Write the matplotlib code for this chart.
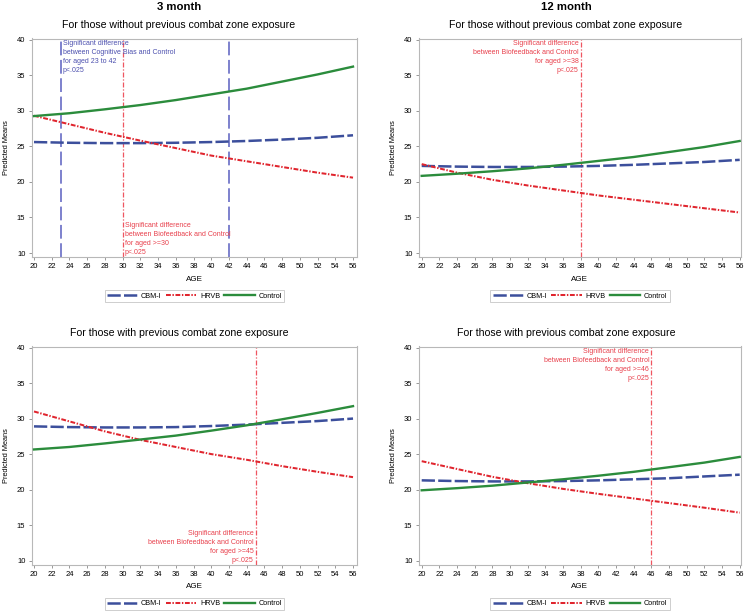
import matplotlib
matplotlib.use("Agg")
import matplotlib.pyplot as plt

plt.rcParams['font.family'] = ['Liberation Sans', 'DejaVu Sans']

# ---------------- data ----------------
ages = [20, 24, 28, 32, 36, 40, 44, 48, 52, 56]

# 3 month, without previous combat zone exposure
m3_wo_cbmi    = [25.6, 25.5, 25.45, 25.45, 25.5, 25.6, 25.75, 25.95, 26.2, 26.55]
m3_wo_hrvb    = [29.3, 28.1, 26.9, 25.8, 24.75, 23.7, 22.9, 22.1, 21.3, 20.6]
m3_wo_control = [29.25, 29.65, 30.2, 30.8, 31.5, 32.3, 33.1, 34.1, 35.1, 36.2]

# 12 month, without previous combat zone exposure
m12_wo_cbmi    = [22.25, 22.15, 22.1, 22.1, 22.15, 22.25, 22.4, 22.6, 22.8, 23.1]
m12_wo_hrvb    = [22.5, 21.3, 20.3, 19.5, 18.8, 18.1, 17.5, 16.9, 16.3, 15.7]
m12_wo_control = [20.85, 21.15, 21.5, 21.9, 22.4, 22.95, 23.5, 24.2, 24.9, 25.75]

# 3 month, with previous combat zone exposure
m3_w_cbmi    = [28.9, 28.8, 28.75, 28.75, 28.8, 28.95, 29.15, 29.4, 29.65, 30.0]
m3_w_hrvb    = [31.0, 29.6, 28.2, 27.0, 26.0, 25.0, 24.2, 23.3, 22.5, 21.75]
m3_w_control = [25.65, 26.0, 26.5, 27.05, 27.6, 28.3, 29.05, 29.9, 30.8, 31.75]

# 12 month, with previous combat zone exposure
m12_w_cbmi    = [21.3, 21.2, 21.15, 21.15, 21.2, 21.3, 21.45, 21.6, 21.85, 22.1]
m12_w_hrvb    = [24.0, 22.9, 21.8, 20.9, 20.1, 19.4, 18.75, 18.1, 17.45, 16.75]
m12_w_control = [19.9, 20.2, 20.55, 21.0, 21.45, 21.95, 22.5, 23.15, 23.8, 24.6]

series_names = ['CBM-I', 'HRVB', 'Control']
col_titles = ['3 month', '12 month']
row_titles = ['For those without previous combat zone exposure',
              'For those with previous combat zone exposure']
xticks = list(range(20, 57, 2))
yticks = [10, 15, 20, 25, 30, 35, 40]

# reference lines / annotations per panel
ref_m3_wo_blue = [23, 42]
ref_m3_wo_red = 30
ref_m12_wo_red = 38
ref_m3_w_red = 45
ref_m12_w_red = 46

note_blue = "Significant difference\nbetween Cognitive Bias and Control\nfor aged 23 to 42\np<.025"
def note_red(a):
    return "Significant difference\nbetween Biofeedback and Control\nfor aged >=%d\np<.025" % a

# ---------------- style ----------------
C_CBMI = '#3c4f9c'
C_HRVB = '#e0252e'
C_CTRL = '#2b8c3c'
C_REFB = '#5a5fc0'
C_REFR = '#ef5560'
C_TXTB = '#4b4fae'
C_TXTR = '#e8404c'

W, H = 746, 611
fig = plt.figure(figsize=(W / 100, H / 100), dpi=100)

def rect(l, t, r, b):
    return [l / W, 1 - b / H, (r - l) / W, (b - t) / H]

axes_rects = [
    rect(31.7, 38.5, 357, 257),
    rect(418.7, 38.5, 741, 257),
    rect(31.7, 346.5, 357, 564.5),
    rect(418.7, 346.5, 741, 564.5),
]
xlims = [(19.74, 56.45), (19.66, 56.15), (19.74, 56.45), (19.66, 56.15)]
title_x = [0.453, 0.457, 0.453, 0.457]

panel_data = [
    (m3_wo_cbmi, m3_wo_hrvb, m3_wo_control),
    (m12_wo_cbmi, m12_wo_hrvb, m12_wo_control),
    (m3_w_cbmi, m3_w_hrvb, m3_w_control),
    (m12_w_cbmi, m12_w_hrvb, m12_w_control),
]

styles = [
    dict(color=C_CBMI, lw=1.8, linestyle=(0, (5.3, 1.3))),
    dict(color=C_HRVB, lw=1.45, linestyle=(0, (2.4, 0.8, 0.7, 0.8))),
    dict(color=C_CTRL, lw=1.7, linestyle='-'),
]

axes = []
for i, (r, xl, data) in enumerate(zip(axes_rects, xlims, panel_data)):
    ax = fig.add_axes(r)
    axes.append(ax)
    ax.set_xlim(*xl)
    ax.set_ylim(9.45, 40.15)
    for s, name, st in zip(data, series_names, styles):
        ax.plot(ages, s, label=name, zorder=3, **st)
    ax.set_xticks(xticks)
    ax.set_yticks(yticks)
    ax.tick_params(labelsize=5.5, length=2.5, width=0.6, color='#888888', pad=2)
    for sp in ax.spines.values():
        sp.set_color('#b8b8b8')
        sp.set_linewidth(0.8)
    ax.set_xlabel('AGE', fontsize=5.8, labelpad=4)
    ax.set_ylabel('Predicted Means', fontsize=5.3, labelpad=5)
    ax.set_title(row_titles[i // 2], fontsize=7.6, pad=7.5, x=title_x[i])
    leg = ax.legend(loc='upper center', bbox_to_anchor=(0.5, -0.135), ncol=3,
                    fontsize=5.2, frameon=True, fancybox=False, handlelength=4.2,
                    columnspacing=0.6, handletextpad=0.5, borderpad=0.35,
                    edgecolor='#b8b8b8')
    leg.get_frame().set_linewidth(0.6)

ref_kw_red = dict(color=C_REFR, lw=0.9, linestyle=(0, (4, 1.5, 1, 1.5)), zorder=2)
ref_kw_blue = dict(color=C_REFB, lw=1.1, linestyle=(0, (9, 3)), zorder=2)
txt_kw = dict(fontsize=5.0, linespacing=1.4)

# panel 1
ax = axes[0]
for a in ref_m3_wo_blue:
    ax.axvline(a, **ref_kw_blue)
ax.axvline(ref_m3_wo_red, **ref_kw_red)
ax.text(ref_m3_wo_blue[0] + 0.25, 39.95, note_blue, color=C_TXTB, ha='left', va='top', **txt_kw)
ax.text(ref_m3_wo_red + 0.25, 9.55, note_red(ref_m3_wo_red), color=C_TXTR, ha='left', va='bottom', **txt_kw)

# panel 2
ax = axes[1]
ax.axvline(ref_m12_wo_red, **ref_kw_red)
ax.text(ref_m12_wo_red - 0.25, 39.95, note_red(ref_m12_wo_red), color=C_TXTR, ha='right', va='top', multialignment='right', **txt_kw)

# panel 3
ax = axes[2]
ax.axvline(ref_m3_w_red, **ref_kw_red)
ax.text(ref_m3_w_red - 0.25, 9.55, note_red(ref_m3_w_red), color=C_TXTR, ha='right', va='bottom', multialignment='right', **txt_kw)

# panel 4
ax = axes[3]
ax.axvline(ref_m12_w_red, **ref_kw_red)
ax.text(ref_m12_w_red - 0.25, 39.95, note_red(ref_m12_w_red), color=C_TXTR, ha='right', va='top', multialignment='right', **txt_kw)

# column headers
fig.text(179 / W, 1 - 7.5 / H, col_titles[0], fontsize=8.2, fontweight='bold', ha='center', va='center')
fig.text(566 / W, 1 - 7.5 / H, col_titles[1], fontsize=8.2, fontweight='bold', ha='center', va='center')

fig.savefig('out.png', dpi=100, facecolor='white')
